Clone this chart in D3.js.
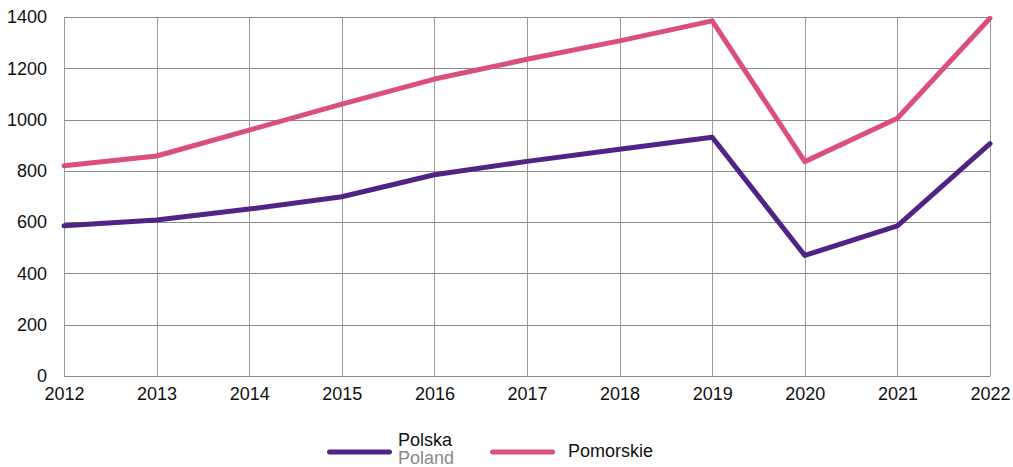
<!DOCTYPE html>
<html>
<head>
<meta charset="utf-8">
<script src="https://cdn.jsdelivr.net/npm/d3@7"></script>
<style>
  html, body { margin: 0; padding: 0; background: #fff; }
  svg { display: block; font-family: "Liberation Sans", Arial, sans-serif; }
</style>
</head>
<body>
<svg id="chart" width="1013" height="467"></svg>
<script>
// Years on the x axis
const years = [2012, 2013, 2014, 2015, 2016, 2017, 2018, 2019, 2020, 2021, 2022];
// Series values
const polska = [586, 608, 651, 699, 785, 837, 884, 931, 470, 585, 906];
const pomorskie = [820, 858, 959, 1060, 1158, 1235, 1307, 1385, 836, 1005, 1395];
// Y axis ticks
const yTicks = [0, 200, 400, 600, 800, 1000, 1200, 1400];

const series = [
  { name: "Polska", sub: "Poland", values: polska, color: "#4f2484" },
  { name: "Pomorskie", sub: null, values: pomorskie, color: "#db4e82" }
];

const svg = d3.select("#chart");
const m = { left: 64, right: 990, top: 17, bottom: 376 };

const x = d3.scalePoint().domain(years).range([m.left, m.right]);
const y = d3.scaleLinear().domain([0, 1400]).range([m.bottom, m.top]);

const grid = svg.append("g");
// Horizontal gridlines
grid.selectAll("line.h").data(yTicks).join("line")
  .attr("x1", m.left).attr("x2", m.right)
  .attr("y1", d => Math.round(y(d)) + 0.5).attr("y2", d => Math.round(y(d)) + 0.5)
  .attr("stroke", "#8a8a8a").attr("stroke-width", 1);
// Vertical gridlines
grid.selectAll("line.v").data(years).join("line")
  .attr("x1", d => Math.round(x(d)) + 0.5).attr("x2", d => Math.round(x(d)) + 0.5)
  .attr("y1", Math.round(y(1400)) + 0.5).attr("y2", Math.round(y(0)) + 0.5)
  .attr("stroke", "#9a9a9a").attr("stroke-width", 1);

// Y axis labels
const yAxis = svg.append("g")
  .attr("transform", `translate(${m.left - 17},0)`)
  .call(d3.axisLeft(y).tickValues(yTicks).tickSize(0).tickPadding(0).tickFormat(d3.format("d")));
yAxis.select(".domain").remove();
yAxis.selectAll("text").attr("font-size", 18).attr("fill", "#111")
  .attr("font-family", "Liberation Sans, Arial, sans-serif");

// X axis labels
const xAxis = svg.append("g")
  .attr("transform", `translate(0,${m.bottom})`)
  .call(d3.axisBottom(x).tickSize(0).tickPadding(11));
xAxis.select(".domain").remove();
xAxis.selectAll("text").attr("font-size", 18).attr("fill", "#111")
  .attr("font-family", "Liberation Sans, Arial, sans-serif");

// Lines
const line = d3.line().x((d, i) => x(years[i])).y(d => y(d));
svg.append("g").selectAll("path").data(series).join("path")
  .attr("d", d => line(d.values))
  .attr("fill", "none")
  .attr("stroke", d => d.color)
  .attr("stroke-width", 5)
  .attr("stroke-linejoin", "round")
  .attr("stroke-linecap", "round");

// Legend
const legend = svg.append("g");
const lx = [329.5, 492.5];
series.forEach((s, i) => {
  const g = legend.append("g").attr("transform", `translate(${lx[i]},452)`);
  g.append("line").attr("x1", 0).attr("x2", 60).attr("y1", 0).attr("y2", 0)
    .attr("stroke", s.color).attr("stroke-width", 5).attr("stroke-linecap", "round");
  if (s.sub) {
    g.append("text").attr("x", 68.5).attr("y", -6).attr("font-size", 18).attr("fill", "#111").text(s.name);
    g.append("text").attr("x", 68.5).attr("y", 12).attr("font-size", 18).attr("fill", "#8a8a8a").text(s.sub);
  } else {
    g.append("text").attr("x", 75.5).attr("y", 5).attr("font-size", 18).attr("fill", "#111").text(s.name);
  }
});
</script>
</body>
</html>
